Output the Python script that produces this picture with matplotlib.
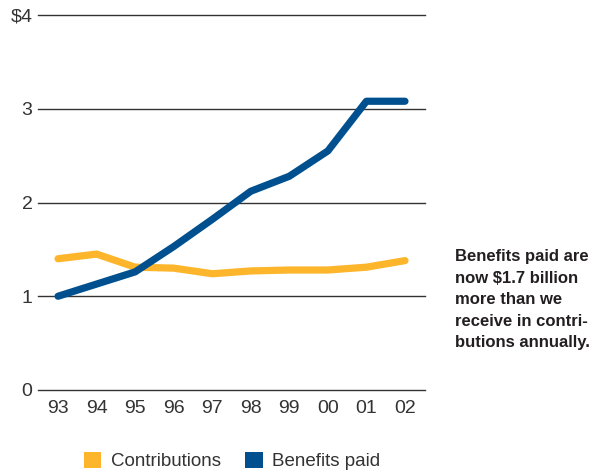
import matplotlib
matplotlib.use("Agg")
import matplotlib.pyplot as plt
from matplotlib.patches import Patch

years = ["93", "94", "95", "96", "97", "98", "99", "00", "01", "02"]
contributions = [1.40, 1.45, 1.31, 1.30, 1.24, 1.27, 1.28, 1.28, 1.31, 1.38]
benefits_paid = [1.00, 1.13, 1.26, 1.53, 1.82, 2.12, 2.28, 2.55, 3.08, 3.08]
y_ticks = [0, 1, 2, 3, 4]
y_labels = ["0", "1", "2", "3", "$4"]
series_names = ["Contributions", "Benefits paid"]
note = "Benefits paid are\nnow $1.7 billion\nmore than we\nreceive in contri-\nbutions annually."

ORANGE = "#FDB52B"
BLUE = "#00508F"
GRID = "#333333"
TXT = "#333333"

plt.rcParams['font.family'] = ['Liberation Sans', 'DejaVu Sans']

fig = plt.figure(figsize=(5.96, 4.72), dpi=100)
ax = fig.add_axes([38/596, (472-390)/472, (425-38)/596, (390-15)/472])

x = list(range(len(years)))
for yv in y_ticks:
    ax.axhline(yv, color=GRID, lw=1.0, zorder=1, clip_on=False)

ax.plot(x, contributions, color=ORANGE, lw=5.2, solid_capstyle='round',
        solid_joinstyle='round', zorder=3, clip_on=False)
ax.plot(x, benefits_paid, color=BLUE, lw=5.2, solid_capstyle='round',
        solid_joinstyle='round', zorder=4, clip_on=False)

ax.set_xlim(-0.52, 9.52)
ax.set_ylim(0, 4)
ax.set_xticks(x)
ax.set_xticklabels(years)
ax.set_yticks(y_ticks)
ax.set_yticklabels(y_labels)
ax.tick_params(axis='both', length=0, labelsize=14, labelcolor=TXT)
ax.tick_params(axis='y', pad=4)
ax.tick_params(axis='x', pad=7)
for s in ax.spines.values():
    s.set_visible(False)

handles = [Patch(facecolor=ORANGE, edgecolor='none'),
           Patch(facecolor=BLUE, edgecolor='none')]
fig.legend(handles, series_names, loc='center',
           bbox_to_anchor=(232/596, (472-461)/472), ncol=2, frameon=False,
           fontsize=13.5, handlelength=0.95, handleheight=0.95,
           handletextpad=0.5, columnspacing=1.3, labelcolor=TXT)

fig.text(455/596, (472-249)/472, note, ha='left', va='top', fontsize=12,
         fontweight='bold', color='#231f20', linespacing=1.55)

fig.savefig("out.png", dpi=100)
